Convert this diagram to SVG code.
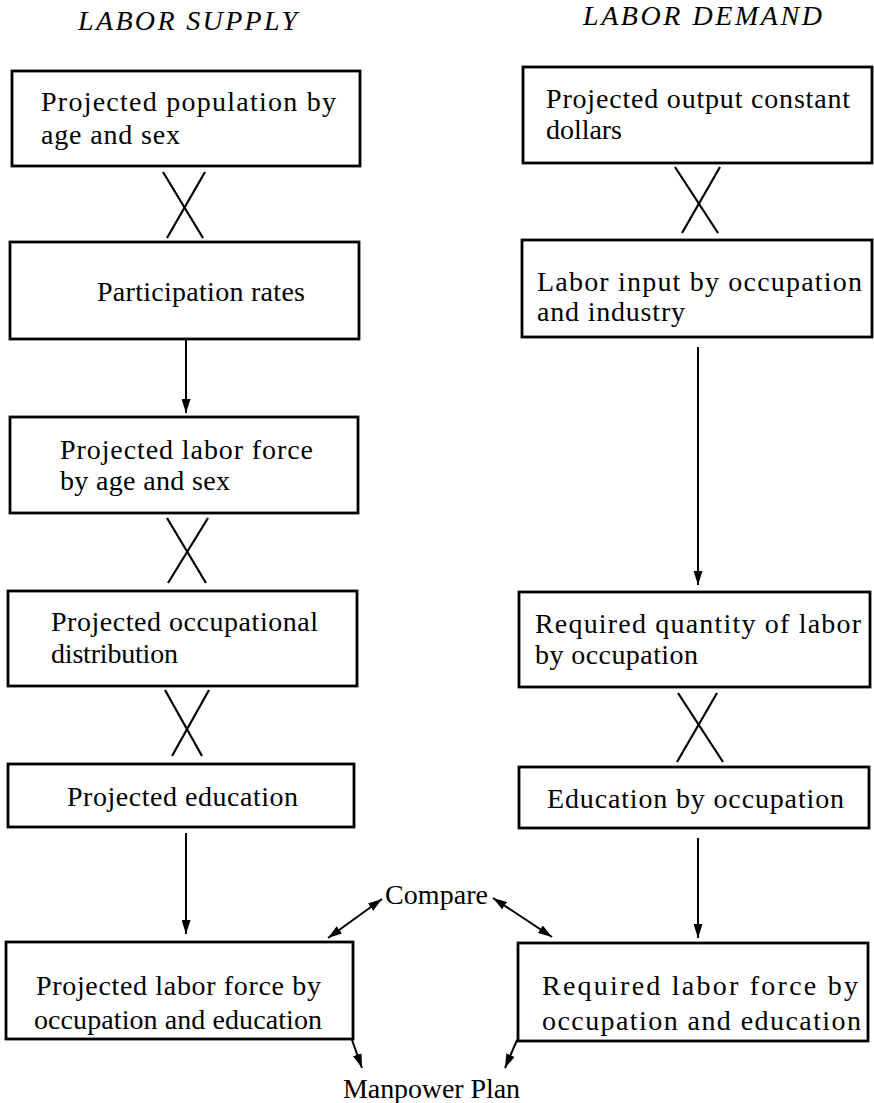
<svg xmlns="http://www.w3.org/2000/svg" width="874" height="1103" viewBox="0 0 874 1103">
<defs>
<marker id="ah" markerUnits="userSpaceOnUse" markerWidth="14" markerHeight="9" refX="14" refY="4.5" orient="auto-start-reverse" viewBox="0 0 14 9">
<path d="M0,0 L14,4.5 L0,9 z" fill="#000"/>
</marker>
<style>
.box{fill:#fff;stroke:#000;stroke-width:2.8}
.t{font-family:"Liberation Serif","Times New Roman",serif;font-size:28px;fill:#000}
.ti{font-family:"Liberation Serif","Times New Roman",serif;font-size:28px;font-style:italic;fill:#000}
.x{stroke:#000;stroke-width:2.2;fill:none}
.a{stroke:#000;stroke-width:2;fill:none;marker-end:url(#ah)}
.d{stroke:#000;stroke-width:2;fill:none;marker-start:url(#ah);marker-end:url(#ah)}
</style>
</defs>
<rect width="874" height="1103" fill="#fff"/>

<g id="titles">
<text class="ti" x="78" y="30" textLength="219" lengthAdjust="spacing">LABOR SUPPLY</text>
<text class="ti" x="583" y="25" textLength="239" lengthAdjust="spacing">LABOR DEMAND</text>
</g>

<g id="s1">
<rect class="box" x="12" y="71" width="348" height="95"/>
<text class="t" x="41" y="111" textLength="295" lengthAdjust="spacing">Projected population by</text>
<text class="t" x="41" y="144" textLength="139" lengthAdjust="spacing">age and sex</text>
</g>
<g id="s2">
<rect class="box" x="10" y="242" width="349" height="97"/>
<text class="t" x="97" y="301" textLength="208" lengthAdjust="spacing">Participation rates</text>
</g>
<g id="s3">
<rect class="box" x="10" y="417" width="348" height="96"/>
<text class="t" x="60" y="459" textLength="253" lengthAdjust="spacing">Projected labor force</text>
<text class="t" x="60" y="490" textLength="170" lengthAdjust="spacing">by age and sex</text>
</g>
<g id="s4">
<rect class="box" x="8" y="591" width="349" height="95"/>
<text class="t" x="51" y="631" textLength="267" lengthAdjust="spacing">Projected occupational</text>
<text class="t" x="51" y="663" textLength="127" lengthAdjust="spacing">distribution</text>
</g>
<g id="s5">
<rect class="box" x="8" y="764" width="346" height="63"/>
<text class="t" x="67" y="806" textLength="231" lengthAdjust="spacing">Projected education</text>
</g>
<g id="s6">
<rect class="box" x="6" y="942" width="347" height="97"/>
<text class="t" x="36" y="995" textLength="285" lengthAdjust="spacing">Projected labor force by</text>
<text class="t" x="34" y="1029" textLength="288" lengthAdjust="spacing">occupation and education</text>
</g>

<g id="d1">
<rect class="box" x="523" y="67" width="349" height="96"/>
<text class="t" x="546" y="108" textLength="304" lengthAdjust="spacing">Projected output constant</text>
<text class="t" x="546" y="139" textLength="76" lengthAdjust="spacing">dollars</text>
</g>
<g id="d2">
<rect class="box" x="522" y="240" width="350" height="97"/>
<text class="t" x="537" y="291" textLength="325" lengthAdjust="spacing">Labor input by occupation</text>
<text class="t" x="537" y="321" textLength="148" lengthAdjust="spacing">and industry</text>
</g>
<g id="d3">
<rect class="box" x="519" y="592" width="351" height="95"/>
<text class="t" x="535" y="633" textLength="326" lengthAdjust="spacing">Required quantity of labor</text>
<text class="t" x="535" y="664" textLength="163" lengthAdjust="spacing">by occupation</text>
</g>
<g id="d4">
<rect class="box" x="519" y="767" width="350" height="61"/>
<text class="t" x="547" y="808" textLength="297" lengthAdjust="spacing">Education by occupation</text>
</g>
<g id="d5">
<rect class="box" x="518" y="943" width="350" height="98"/>
<text class="t" x="542" y="995" textLength="316" lengthAdjust="spacing">Required labor force by</text>
<text class="t" x="542" y="1030" textLength="319" lengthAdjust="spacing">occupation and education</text>
</g>

<g id="compare">
<text class="t" x="385" y="904" textLength="103" lengthAdjust="spacing">Compare</text>
</g>
<g id="plan">
<text class="t" x="343" y="1098" textLength="177" lengthAdjust="spacing">Manpower Plan</text>
</g>

<g id="connectors">
<line class="x" x1="163" y1="172" x2="203" y2="238"/>
<line class="x" x1="205" y1="172" x2="167" y2="238"/>
<line class="a" x1="186" y1="339" x2="186" y2="413"/>
<line class="x" x1="167" y1="518" x2="206" y2="583"/>
<line class="x" x1="208" y1="518" x2="168" y2="583"/>
<line class="x" x1="165" y1="690" x2="202" y2="756"/>
<line class="x" x1="209" y1="690" x2="172" y2="756"/>
<line class="a" x1="186" y1="833" x2="186" y2="934"/>

<line class="x" x1="675" y1="167" x2="718" y2="233"/>
<line class="x" x1="720" y1="167" x2="682" y2="233"/>
<line class="a" x1="698" y1="347" x2="698" y2="585"/>
<line class="x" x1="678" y1="693" x2="723" y2="762"/>
<line class="x" x1="717" y1="693" x2="677" y2="762"/>
<line class="a" x1="698" y1="838" x2="698" y2="938"/>

<line class="d" x1="328" y1="938" x2="382" y2="899"/>
<line class="d" x1="493" y1="898" x2="552" y2="937"/>
<line class="a" x1="352" y1="1040" x2="362" y2="1068"/>
<line class="a" x1="517" y1="1040" x2="505" y2="1068"/>
</g>
</svg>
